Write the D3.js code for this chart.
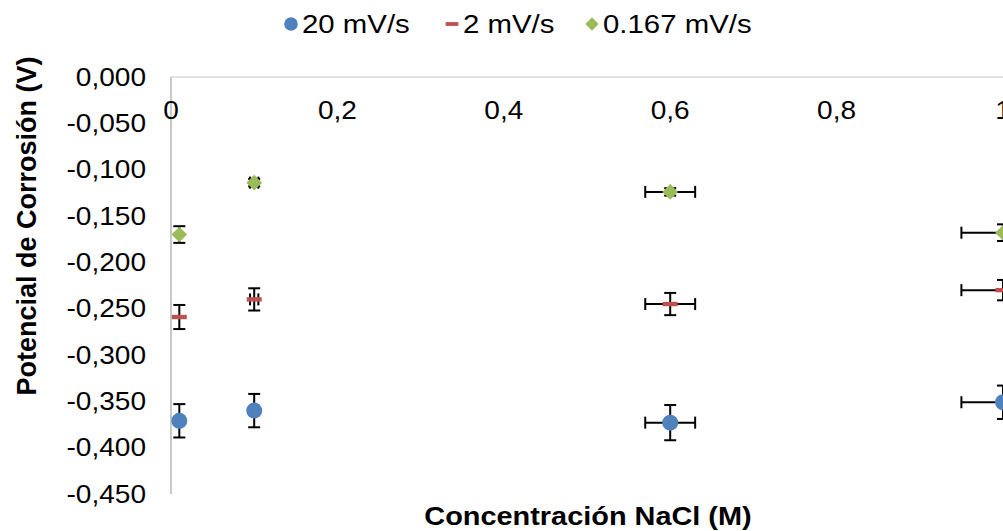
<!DOCTYPE html>
<html>
<head>
<meta charset="utf-8">
<script src="https://cdn.jsdelivr.net/npm/d3@7"></script>
<style>
  html, body { margin: 0; padding: 0; background: #fff; }
  svg { display: block; font-family: "Liberation Sans", Arial, sans-serif; }
</style>
</head>
<body>
<svg id="chart" width="1003" height="531"></svg>
<script>
// Concentración de NaCl (M) y su incertidumbre
const concentrations = [0.01, 0.1, 0.6, 1.0];
const concErrors = [0, 0.005, 0.03, 0.05];

// Potencial de corrosión (V) por velocidad de barrido
const seriesNames = ["20 mV/s", "2 mV/s", "0.167 mV/s"];
const potential20 = [-0.371, -0.360, -0.373, -0.351];
const error20 = [0.018, 0.018, 0.019, 0.018];
const potential2 = [-0.259, -0.240, -0.245, -0.230];
const error2 = [0.013, 0.012, 0.012, 0.011];
const potential0167 = [-0.170, -0.114, -0.124, -0.168];
const error0167 = [0.009, 0.004, 0.004, 0.009];

const yTicks = [0, -0.05, -0.1, -0.15, -0.2, -0.25, -0.3, -0.35, -0.4, -0.45];
const xTicks = [0, 0.2, 0.4, 0.6, 0.8, 1];

const colors = ["#4f81bd", "#c0504d", "#9bbb59"];
const shapes = ["circle", "dash", "diamond"];
const series = [
  { name: seriesNames[0], values: potential20, errors: error20 },
  { name: seriesNames[1], values: potential2, errors: error2 },
  { name: seriesNames[2], values: potential0167, errors: error0167 }
];

const svg = d3.select("#chart");
const stretch = 1.1;   // horizontal widening of the lettering
const fmt = v => d3.format(".3f")(v).replace(".", ",").replace("−", "-");
const fmtX = v => v === 0 ? "0" : v === 1 ? "1" : String(v).replace(".", ",");

const x = d3.scaleLinear().domain([0, 1.2]).range([171, 171 + 1.2 * 832]);
const y = d3.scaleLinear().domain([0, -0.45]).range([77, 494]);

// helper: horizontally stretched text
function label(g, tx, ty, text, opts) {
  const sx = opts.sx === undefined ? stretch : opts.sx;
  return g.append("text")
    .attr("transform", `translate(${tx},${ty}) scale(${sx},1)` + (opts.rotate ? ` rotate(${opts.rotate})` : ""))
    .attr("text-anchor", opts.anchor || "middle")
    .attr("dominant-baseline", "central")
    .attr("font-size", opts.size)
    .attr("font-weight", opts.weight || "normal")
    .attr("fill", "#000")
    .text(text);
}

// axis lines
svg.append("line").attr("x1", x(0)).attr("x2", 1003).attr("y1", y(0)).attr("y2", y(0))
  .attr("stroke", "#d9d9d9").attr("stroke-width", 1.5);
svg.append("line").attr("x1", x(0)).attr("x2", x(0)).attr("y1", y(0)).attr("y2", y(-0.45))
  .attr("stroke", "#c8c8c8").attr("stroke-width", 2);

// y tick labels
const yg = svg.append("g");
yTicks.forEach(v => label(yg, 146, y(v), fmt(v), { size: 25.5, anchor: "end" }));

// x tick labels (drawn inside the plot, under the top axis)
const xg = svg.append("g");
xTicks.forEach(v => label(xg, x(v), 110, fmtX(v), { size: 25.5 }));

// axis titles
label(svg, 588, 516, "Concentración NaCl (M)", { size: 25.8, weight: "bold", sx: 1.12 });
label(svg, 27, 226, "Potencial de Corrosión (V)", { size: 27, weight: "bold", sx: 1.0, rotate: -90 });

// error bars + markers
const cap = 6;
const plot = svg.append("g");
series.forEach((s, si) => {
  const pts = concentrations.map((c, i) => ({ c, v: s.values[i], e: s.errors[i], xe: concErrors[i] }));
  const eb = plot.append("g").attr("stroke", "#000").attr("stroke-width", 2);
  pts.forEach(p => {
    const cx = x(p.c), cy = y(p.v);
    eb.append("line").attr("x1", cx).attr("x2", cx).attr("y1", y(p.v + p.e)).attr("y2", y(p.v - p.e));
    eb.append("line").attr("x1", cx - cap).attr("x2", cx + cap).attr("y1", y(p.v + p.e)).attr("y2", y(p.v + p.e));
    eb.append("line").attr("x1", cx - cap).attr("x2", cx + cap).attr("y1", y(p.v - p.e)).attr("y2", y(p.v - p.e));
    if (p.xe > 0) {
      eb.append("line").attr("x1", x(p.c - p.xe)).attr("x2", x(p.c + p.xe)).attr("y1", cy).attr("y2", cy);
      eb.append("line").attr("x1", x(p.c - p.xe)).attr("x2", x(p.c - p.xe)).attr("y1", cy - cap).attr("y2", cy + cap);
      eb.append("line").attr("x1", x(p.c + p.xe)).attr("x2", x(p.c + p.xe)).attr("y1", cy - cap).attr("y2", cy + cap);
    }
  });
  const mg = plot.append("g").attr("fill", colors[si]);
  pts.forEach(p => drawMarker(mg, shapes[si], x(p.c), y(p.v), 1));
});

function drawMarker(g, shape, cx, cy, k) {
  if (shape === "circle") {
    g.append("circle").attr("cx", cx).attr("cy", cy).attr("r", 8 * k);
  } else if (shape === "dash") {
    g.append("rect").attr("x", cx - 7.5 * k).attr("y", cy - 2.2 * k).attr("width", 15 * k).attr("height", 4.4 * k);
  } else {
    const r = 7.8 * k;
    g.append("path").attr("d", `M${cx},${cy - r}L${cx + r},${cy}L${cx},${cy + r}L${cx - r},${cy}Z`);
  }
}

// legend
const legendX = [291, 452, 592];
const lg = svg.append("g");
series.forEach((s, i) => {
  const mg = lg.append("g").attr("fill", colors[i]);
  drawMarker(mg, shapes[i], legendX[i], 24, 0.85);
  label(lg, legendX[i] + 11, 24, s.name, { size: 26, anchor: "start", sx: 1.13 });
});
</script>
</body>
</html>
